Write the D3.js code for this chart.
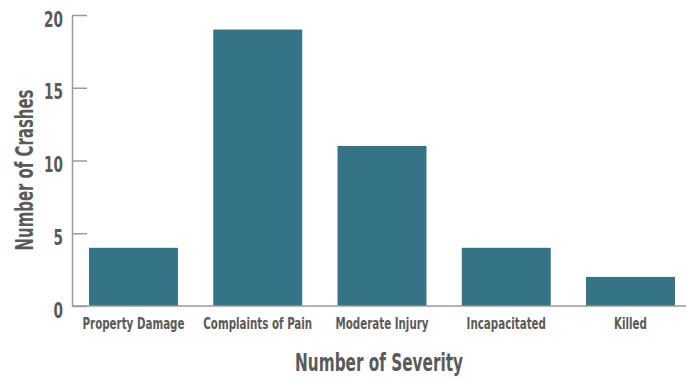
<!DOCTYPE html>
<html><head><meta charset="utf-8">
<script src="https://cdn.jsdelivr.net/npm/d3@7"></script>
<style>body{margin:0;background:#fff}svg{display:block}
text{font-family:"DejaVu Sans Condensed","DejaVu Sans",sans-serif;font-weight:bold;fill:#5a5a5a}</style>
</head><body><svg id="c" width="687" height="381"></svg>
<script>
const categories = ["Property Damage","Complaints of Pain","Moderate Injury","Incapacitated","Killed"];
const values = [4,19,11,4,2];
const yTicks = [0,5,10,15,20];

const svg = d3.select("#c");
const axisX = 72, axisRight = 686, yTop = 15, yBottom = 306;
const x = d3.scaleBand().domain(categories).range([89, 675]).paddingInner(0.284).paddingOuter(0);
const y = d3.scaleLinear().domain([0,20]).range([yBottom, yTop]);

// squeeze a group of texts horizontally (scale transform) so a reference text gets the target width
function squeeze(sel, refWidth, refIndex) {
  const nodes = sel.nodes();
  const k = refWidth / nodes[refIndex].getComputedTextLength();
  nodes.forEach(n => {
    const x0 = +(n.getAttribute("x") || 0);
    n.setAttribute("x", x0 / k);
    const t = n.getAttribute("transform") || "";
    n.setAttribute("transform", (t + ` scale(${k},1)`).trim());
  });
}

// y axis
const ya = svg.append("g").attr("transform",`translate(${axisX},0)`)
  .call(d3.axisRight(y).tickValues(yTicks).tickSize(15).tickSizeOuter(0).tickFormat(d3.format("d")));
ya.select(".domain").attr("stroke","#9a9a9a").attr("stroke-width",1.5);
ya.selectAll(".tick line").attr("stroke","#9a9a9a").attr("stroke-width",1.5);
ya.selectAll(".tick text").attr("x",-9).attr("text-anchor","end").attr("dy","11px")
  .style("font-size","22px").style("fill","#5a5a5a");
squeeze(ya.selectAll(".tick text"), 19, 4);

// bars
svg.append("g").selectAll("rect").data(values).join("rect")
  .attr("x",(d,i)=>x(categories[i])).attr("width",x.bandwidth())
  .attr("y",d=>y(d)).attr("height",d=>y(0)-y(d)).attr("fill","#357487");

// x axis
const xa = svg.append("g").attr("transform",`translate(0,${yBottom})`)
  .call(d3.axisBottom(x).tickSize(0));
xa.select(".domain").attr("d",`M${axisX},0H${axisRight}`).attr("stroke","#9a9a9a").attr("stroke-width",1.5);
xa.selectAll(".tick text").attr("y",23).attr("dy","0").style("font-size","16.5px").style("fill","#5a5a5a");
squeeze(xa.selectAll(".tick text"), 102, 0);

// titles
const xt = svg.append("text").attr("transform",`translate(${(axisX+axisRight)/2},371)`).attr("text-anchor","middle")
  .style("font-size","25px").style("fill","#5a5a5a").text("Number of Severity");
squeeze(xt, 168, 0);
const yt = svg.append("text").attr("transform",`translate(33,170) rotate(-90)`).attr("text-anchor","middle")
  .style("font-size","25px").style("fill","#5a5a5a").text("Number of Crashes");
squeeze(yt, 161, 0);
</script></body></html>
